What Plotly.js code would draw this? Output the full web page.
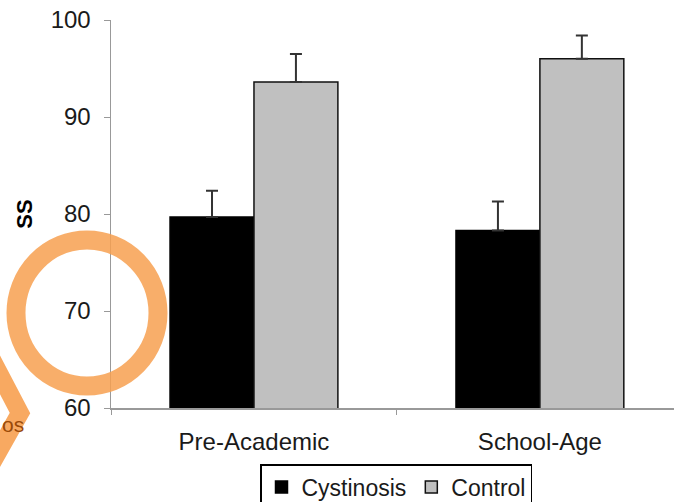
<!DOCTYPE html>
<html>
<head>
<meta charset="utf-8">
<script src="https://cdn.plot.ly/plotly-3.0.1.min.js"></script>
<style>html,body{margin:0;padding:0;background:#fff;}#chart{width:674px;height:502px;}</style>
</head>
<body>
<div id="chart"></div>
<script>
const categories = ["Pre-Academic", "School-Age"];
const cystinosisValues = [79.7, 78.3];
const cystinosisErrors = [2.7, 3.0];
const controlValues = [93.6, 96.0];
const controlErrors = [2.9, 2.4];
const seriesNames = ["Cystinosis", "Control"];
const yTicks = [60, 70, 80, 90, 100];

const W = 674, H = 502;
const M = {l: 111, r: 0, t: 20, b: 94, autoexpand: false};
const pw = W - M.l - M.r, ph = H - M.t - M.b;
function px(x){ return (x - M.l) / pw; }
function py(y){ return (H - M.b - y) / ph; }

const font = "Liberation Sans, Arial, sans-serif";

const traces = [
  {
    type: "bar", name: seriesNames[0], x: categories, y: cystinosisValues,
    marker: {color: "#000000", line: {color: "#000000", width: 1.5}},
    error_y: {type: "data", symmetric: false, array: cystinosisErrors, arrayminus: [0, 0],
              color: "#333333", thickness: 2, width: 6}
  },
  {
    type: "bar", name: seriesNames[1], x: categories, y: controlValues,
    marker: {color: "#C0C0C0", line: {color: "#111111", width: 1.5}},
    error_y: {type: "data", symmetric: false, array: controlErrors, arrayminus: [0, 0],
              color: "#333333", thickness: 2, width: 6}
  }
];

const layout = {
  width: W, height: H,
  margin: M,
  paper_bgcolor: "#ffffff", plot_bgcolor: "#ffffff",
  font: {family: font, size: 24, color: "#1a1a1a"},
  barmode: "group", bargap: 0.413, bargroupgap: 0,
  showlegend: true,
  legend: {orientation: "h", x: px(396), xanchor: "center", y: py(464), yanchor: "top",
           bordercolor: "#000000", borderwidth: 1.5, font: {family: font, size: 23, color: "#1a1a1a"},
           itemwidth: 30, tracegroupgap: 0},
  xaxis: {type: "category", range: [-0.5, 1.469], showline: true, linecolor: "#999999", linewidth: 1.5,
          ticks: "outside", tickson: "boundaries", ticklen: 5, tickcolor: "#999999",
          ticklabelstandoff: 12,
          showgrid: false, zeroline: false, tickfont: {family: font, size: 24, color: "#1a1a1a"}},
  yaxis: {range: [60, 100], tickvals: yTicks, ticktext: yTicks.map(String), showline: true,
          linecolor: "#999999", linewidth: 1.5, ticks: "outside", ticklen: 6, tickcolor: "#999999",
          ticklabelstandoff: 8,
          showgrid: false, zeroline: false, tickfont: {family: font, size: 24, color: "#1a1a1a"},
          title: {text: "<b>SS</b>", font: {family: font, size: 22, color: "#000000"}, standoff: 12}},
  shapes: [
    {type: "circle", xref: "paper", yref: "paper", layer: "above",
     x0: px(16), x1: px(158), y0: py(386), y1: py(240),
     line: {color: "rgba(247,160,80,0.85)", width: 19}, fillcolor: "rgba(0,0,0,0)"},
    {type: "path", xref: "paper", yref: "paper", layer: "above",
     path: "M " + px(-12) + " " + py(352) + " L " + px(20) + " " + py(413) + " L " + px(-12) + " " + py(470),
     line: {color: "rgba(247,160,80,0.9)", width: 18}}
  ],
  annotations: [
    {xref: "paper", yref: "paper", x: px(0), y: py(424), xanchor: "left", yanchor: "middle",
     text: "os", showarrow: false, font: {family: font, size: 21, color: "#9a4a08"}}
  ]
};

Plotly.newPlot("chart", traces, layout, {displayModeBar: false, staticPlot: true});
</script>
</body>
</html>
